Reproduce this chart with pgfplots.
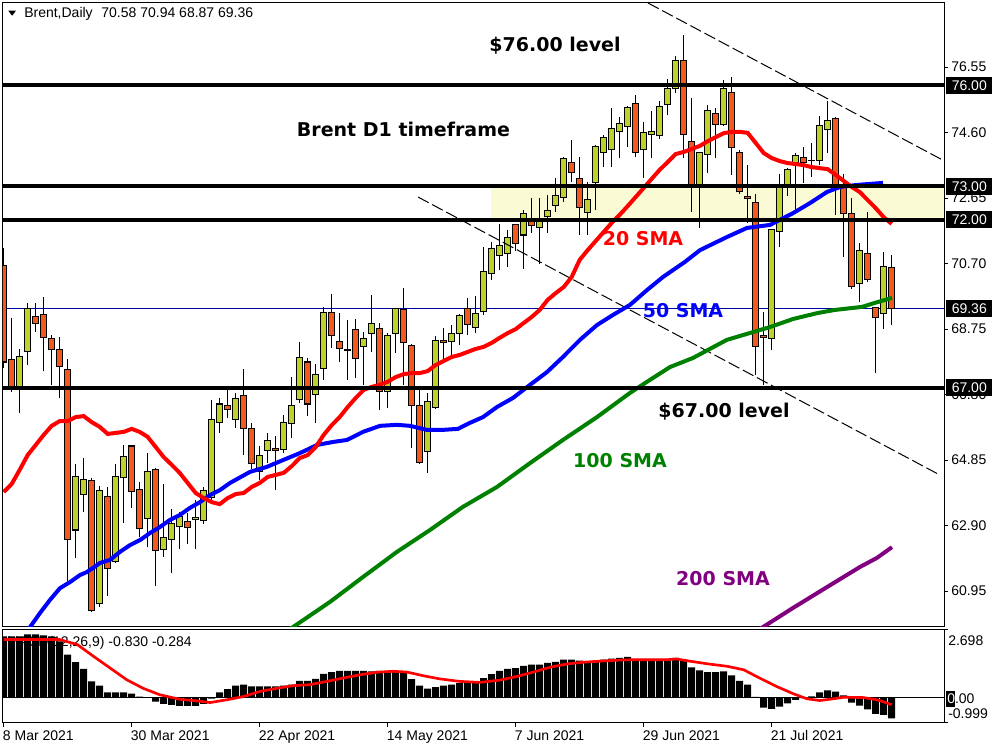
\documentclass[border=0pt]{standalone}
\usepackage{fontspec}
\setmainfont{Liberation Sans}
\newfontfamily\dejavu{DejaVu Sans}
\usepackage{pgfplots}
\usepackage{pgfplotstable}
\pgfplotsset{compat=1.18}
\definecolor{bullc}{RGB}{190,210,45}
\definecolor{bearc}{RGB}{240,90,30}
\definecolor{zonec}{RGB}{250,250,212}
\definecolor{bidc}{RGB}{0,0,160}
\definecolor{smagreen}{RGB}{0,128,0}
\definecolor{smapurple}{RGB}{128,0,128}
\newcommand\smallfnt{\fontsize{10.5}{12}\selectfont}
\newcommand\bigfnt{\dejavu\bfseries\fontsize{14.25}{17}\selectfont}

\pgfplotstableread{
i o h l c
2 67.03 68.16 66.25 67.92
3 68.07 69.53 67.68 69.35
9 62.77 64.73 61.94 64.35
10 63.84 64.91 63.31 64.26
12 60.57 64.08 60.48 63.96
14 61.82 64.73 61.79 64.35
15 64.32 65.30 62.98 64.97
18 63.10 65.06 62.26 64.50
20 62.20 64.14 61.97 62.56
21 62.50 63.40 61.49 62.95
22 62.86 63.31 62.20 63.16
24 63.07 63.66 62.20 63.13
25 63.04 64.05 62.95 63.96
26 63.75 66.64 63.63 66.07
27 65.98 66.70 65.66 66.52
29 66.07 66.85 65.80 66.67
32 64.50 65.27 64.26 65.00
33 65.15 65.66 64.76 65.42
35 65.18 66.19 65.06 65.98
36 65.95 67.32 65.51 66.49
37 66.64 68.37 66.55 67.89
39 66.79 67.71 65.95 67.41
40 67.59 69.41 67.23 69.23
45 68.22 68.66 67.08 68.46
46 68.63 69.77 68.07 68.93
48 66.88 68.62 66.40 68.57
49 68.63 69.38 68.04 69.35
53 65.12 66.85 64.47 66.58
54 66.43 68.54 66.37 68.40
56 68.37 68.87 67.92 68.63
57 68.63 69.20 68.28 69.14
59 68.81 69.74 68.63 69.20
60 69.26 71.19 69.17 70.45
61 70.39 71.34 70.21 71.16
62 70.95 71.88 70.51 71.25
63 71.00 71.70 70.60 71.49
65 71.55 72.30 70.54 72.20
67 71.76 72.65 70.69 72.00
68 72.09 72.74 71.61 72.27
69 72.44 73.25 72.23 72.74
70 72.68 73.86 72.53 73.84
73 72.23 73.13 71.55 72.62
74 73.10 74.23 72.29 74.17
75 74.02 74.53 73.57 74.44
76 74.08 75.33 73.57 74.73
77 74.62 75.06 73.84 74.88
78 74.79 75.39 74.17 75.33
80 74.08 74.91 73.25 74.59
81 74.53 75.24 73.84 74.62
82 74.50 75.54 74.41 75.36
83 75.42 76.19 75.12 75.92
84 75.90 76.88 75.78 76.73
87 73.04 74.02 71.76 74.00
88 73.96 75.42 73.39 75.27
90 74.85 76.16 74.79 75.92
96 68.48 71.72 68.13 71.70
97 71.64 73.37 71.19 72.98
98 73.04 73.54 72.71 73.51
99 73.72 73.99 72.20 73.93
102 73.78 75.09 73.63 74.82
103 74.70 75.54 73.99 74.97
107 70.12 71.31 69.56 71.10
110 69.20 71.04 68.75 70.60
}\bull

\pgfplotstableread{
i o h l c
0 70.63 71.15 67.59 67.77
1 67.83 69.08 66.88 67.03
4 69.11 69.53 68.66 68.93
5 69.17 69.71 67.50 68.51
6 68.48 68.57 67.08 68.13
7 68.13 68.51 66.70 67.65
8 67.56 67.86 61.25 62.50
11 64.23 64.32 60.33 60.36
13 63.78 64.05 60.80 61.61
16 65.27 65.30 63.42 63.93
17 63.99 64.20 62.56 62.80
19 64.56 64.62 61.10 62.15
23 63.01 63.28 62.35 62.83
28 66.49 66.94 66.10 66.37
30 66.76 67.56 65.00 65.78
31 65.78 65.95 64.60 64.75
34 65.21 65.57 63.96 65.15
38 67.77 67.89 66.16 66.52
41 69.23 69.80 68.19 68.57
42 68.37 69.23 67.77 68.16
43 68.14 69.02 67.23 68.12
44 68.75 69.05 67.29 67.86
47 68.78 68.93 66.34 66.88
50 69.32 69.98 67.08 68.34
51 68.25 68.31 65.21 66.49
52 66.49 66.94 64.73 64.79
55 68.40 68.78 67.83 68.34
58 69.35 69.68 68.57 68.90
64 71.85 71.88 71.07 71.31
66 71.97 72.65 71.61 71.82
71 73.72 74.38 73.13 73.42
72 73.22 73.87 71.55 72.38
79 75.45 75.72 73.87 74.02
85 76.73 77.50 73.84 74.53
86 74.32 75.63 72.23 73.04
89 75.18 75.33 73.84 74.85
91 75.78 76.25 73.34 74.14
92 74.02 74.08 72.77 72.83
93 72.71 73.63 71.91 72.65
94 72.53 72.77 67.38 68.22
95 68.57 69.26 67.08 68.51
100 73.87 74.17 73.10 73.72
101 73.78 74.29 73.28 73.77
104 75.03 75.05 72.15 72.98
105 72.98 73.37 70.90 72.20
106 72.20 72.65 69.94 70.03
108 71.01 72.23 70.15 70.24
109 69.38 69.40 67.44 69.08
111 70.58 70.94 68.87 69.36
}\bear

\pgfplotsset{
  nomk/.style={only marks, mark=*, mark size=0pt, mark options={draw opacity=0, fill opacity=0}, forget plot},
  wick/.style={nomk,
    /pgfplots/error bars/y dir=plus, /pgfplots/error bars/y explicit,
    /pgfplots/error bars/error mark=none,
    /pgfplots/error bars/error bar style={black, line width=0.75pt}},
  bodyo/.style={nomk,
    /pgfplots/error bars/y dir=plus, /pgfplots/error bars/y explicit,
    /pgfplots/error bars/error mark=none,
    /pgfplots/error bars/error bar style={black, line width=5.25pt}},
  bodyi/.style={nomk,
    /pgfplots/error bars/y dir=plus, /pgfplots/error bars/y explicit,
    /pgfplots/error bars/error mark=none,
    /pgfplots/error bars/error bar style={#1, line width=3.75pt}},
}

\begin{document}
\begin{tikzpicture}
\path[use as bounding box] (0,0) rectangle (750pt,562.5pt);
% ---------------- main price panel ----------------
\begin{axis}[
  at={(2.25pt,92.25pt)}, anchor=south west,
  scale only axis, width=705.75pt, height=468pt,
  xmin=-0.0875, xmax=117.54, ymin=59.883, ymax=78.455,
  clip mode=individual,
  axis line style={black, line width=0.75pt},
  xtick=\empty,
  ytick={60.95,62.90,64.85,66.80,68.75,70.70,72.65,74.60,76.55},
  yticklabels={60.95,62.90,64.85,66.80,68.75,70.70,72.65,74.60,76.55},
  ytick pos=right, yticklabel pos=right,
  tick align=outside, major tick length=3pt,
  tick style={black, line width=0.75pt},
  yticklabel style={font=\smallfnt, anchor=west, inner sep=0pt},
  yticklabel shift=2.25pt,
]
% support zone
\addplot [fill=zonec, draw=none, forget plot] coordinates {(60.9,72) (117.54,72) (117.54,73) (60.9,73)} -- cycle;
% bid line
\addplot [bidc, line width=0.75pt, forget plot] coordinates {(-1,69.36) (118,69.36)};
% wicks
\addplot [wick] table [x=i, y=l, y error plus expr=\thisrow{h}-\thisrow{l}] {\bull};
\addplot [wick] table [x=i, y=l, y error plus expr=\thisrow{h}-\thisrow{l}] {\bear};
% bodies
\addplot [bodyo] table [x=i, y expr={min(\thisrow{o},\thisrow{c})-0.015}, y error plus expr={abs(\thisrow{c}-\thisrow{o})+0.03}] {\bull};
\addplot [bodyi=bullc] table [x=i, y expr={min(\thisrow{o},\thisrow{c})+0.015}, y error plus expr={max(abs(\thisrow{c}-\thisrow{o})-0.03,0)}] {\bull};
\addplot [bodyo] table [x=i, y expr={min(\thisrow{o},\thisrow{c})-0.015}, y error plus expr={abs(\thisrow{c}-\thisrow{o})+0.03}] {\bear};
\addplot [bodyi=bearc] table [x=i, y expr={min(\thisrow{o},\thisrow{c})+0.015}, y error plus expr={max(abs(\thisrow{c}-\thisrow{o})-0.03,0)}] {\bear};
% dashed channel lines
\addplot [black, line width=0.75pt, dash pattern=on 9pt off 3pt, forget plot] coordinates {(80.54,78.455) (117.54,73.76)};
\addplot [black, line width=0.75pt, dash pattern=on 9pt off 3pt, forget plot] coordinates {(51.79,72.68) (117.0,64.41)};
% SMA 200
\addplot [smapurple, line width=3pt, forget plot] coordinates {(93.5,59.67) (94.91,59.88) (98.66,60.45) (102.91,61.07) (107.04,61.67) (109.16,61.94) (111.04,62.26)};
% SMA 100
\addplot [smagreen, line width=3pt, forget plot] coordinates {(34.9,59.67) (36.16,59.88) (40.79,60.63) (44.91,61.37) (49.16,62.12) (53.29,62.77) (57.41,63.46) (61.66,64.05) (65.79,64.76) (69.91,65.45) (74.16,66.13) (78.29,66.85) (80.41,67.18) (83.29,67.62) (86.16,67.89) (90.41,68.43) (93.66,68.66) (95.79,68.81) (98.66,69.05) (101.79,69.23) (103.91,69.32) (107.29,69.41) (108.91,69.53) (111.04,69.68)};
% SMA 50
\addplot [blue, line width=3pt, forget plot] coordinates {(2.2,59.5) (3.29,59.88) (4.54,60.30) (5.79,60.69) (7.04,61.04) (8.29,61.22) (9.54,61.43) (10.41,61.52) (11.16,61.64) (12.04,61.79) (13.29,61.88) (14.54,62.12) (15.79,62.32) (17.04,62.47) (18.29,62.68) (19.54,62.86) (20.79,63.07) (22.04,63.22) (23.29,63.43) (24.54,63.60) (25.79,63.81) (27.04,63.96) (28.29,64.17) (30.79,64.50) (32.91,64.65) (34.91,64.85) (37.04,65.06) (39.16,65.30) (41.16,65.39) (42.91,65.45) (44.91,65.69) (47.04,65.87) (49.16,65.90) (50.79,65.87) (52.91,65.75) (54.91,65.75) (56.79,65.78) (58.29,65.96) (59.91,66.13) (61.66,66.43) (63.66,66.70) (65.79,67.09) (67.91,67.47) (69.91,67.92) (72.04,68.43) (74.16,68.87) (76.16,69.17) (78.29,69.47) (80.41,69.91) (82.41,70.30) (85.16,70.75) (87.04,71.10) (90.41,71.49) (92.91,71.76) (95.79,71.85) (98.66,72.20) (100.79,72.50) (102.91,72.83) (104.54,72.98) (106.66,73.04) (109.91,73.10)};
% SMA 20
\addplot [red, line width=3pt, forget plot] coordinates {(0,63.90) (1,64.14) (2,64.56) (3,65.00) (4,65.30) (5,65.60) (6,65.87) (7,66.01) (8,66.01) (9,66.13) (10,66.16) (11,65.98) (12,65.84) (13,65.63) (14,65.66) (15,65.69) (16,65.78) (17,65.69) (18,65.54) (19,65.24) (20,64.94) (21,64.71) (22,64.47) (23,64.17) (24,63.87) (25,63.72) (26,63.60) (27,63.54) (28,63.72) (29,63.84) (30,63.87) (31,64.05) (32,64.17) (33,64.35) (34,64.41) (35,64.47) (36,64.67) (37,64.91) (38,65.00) (39,65.24) (40,65.60) (41,65.89) (42,66.13) (43,66.43) (44,66.70) (45,66.94) (46,67.03) (47,67.09) (48,67.18) (49,67.32) (50,67.41) (51,67.44) (52,67.44) (53,67.50) (54,67.68) (55,67.80) (56,67.92) (57,67.98) (58,68.07) (59,68.16) (60,68.22) (61,68.34) (62,68.49) (63,68.63) (64,68.75) (65,68.93) (66,69.11) (67,69.32) (68,69.62) (69,69.82) (70,70.00) (71,70.30) (72,70.81) (73,71.10) (74,71.37) (75,71.64) (76,71.91) (77,72.15) (78,72.41) (79,72.68) (80,72.95) (81,73.22) (82,73.49) (83,73.72) (84,73.96) (85,74.02) (86,74.11) (87,74.20) (88,74.34) (89,74.46) (90,74.58) (91,74.62) (92,74.62) (93,74.59) (94,74.29) (95,73.99) (96,73.84) (97,73.75) (98,73.69) (99,73.66) (100,73.63) (101,73.57) (102,73.54) (103,73.51) (104,73.34) (105,73.16) (106,72.98) (107,72.83) (108,72.59) (109,72.35) (110,72.08) (111,71.88)};
% horizontal levels
\addplot [black, line width=3pt, forget plot] coordinates {(-1,76) (117.54,76)};
\addplot [black, line width=3pt, forget plot] coordinates {(-1,73) (117.54,73)};
\addplot [black, line width=3pt, forget plot] coordinates {(-1,72) (117.54,72)};
\addplot [black, line width=3pt, forget plot] coordinates {(-1,67) (117.54,67)};
% price boxes
\foreach \lv/\tx in {76/76.00,73/73.00,72/72.00,67/67.00,69.36/69.36}{
  \edef\tmp{\noexpand\node[fill=black, text=white, font=\noexpand\smallfnt, anchor=west, inner sep=0pt, minimum width=34.5pt, minimum height=12.75pt, xshift=1.5pt] at (axis cs:117.54,\lv) {\tx};}\tmp
}
\end{axis}
% ---------------- MACD panel ----------------
\begin{axis}[
  at={(2.25pt,20.475pt)}, anchor=south west,
  scale only axis, width=705.75pt, height=69.9pt,
  xmin=-0.0875, xmax=117.54, ymin=-0.999, ymax=2.698,
  clip mode=individual,
  axis line style={black, line width=0.75pt},
  xtick={0,16,32,48,64,80,96},
  xticklabels={8 Mar 2021,30 Mar 2021,22 Apr 2021,14 May 2021,7 Jun 2021,29 Jun 2021,21 Jul 2021},
  xtick pos=left, ytick pos=right,
  ytick={-0.999,2.698}, yticklabels={,,},
  tick align=outside, major tick length=3pt,
  tick style={black, line width=0.75pt},
  xticklabel style={font=\smallfnt, anchor=north west, inner sep=0pt, xshift=-0.75pt},
  xticklabel shift=2.5pt,
]
\node[anchor=east, font=\smallfnt, inner sep=0pt] at (axis cs:23.54,2.16) {MACD(12,26,9) -0.830 -0.284};
\addplot [ybar, bar width=5.25pt, fill=black, draw=none, forget plot] coordinates {(0,2.43) (1,2.43) (2,2.43) (3,2.50) (4,2.50) (5,2.46) (6,2.43) (7,2.23) (8,1.70) (9,1.40) (10,1.14) (11,0.64) (12,0.47) (13,0.20) (14,0.20) (15,0.20) (16,0.15) (17,0.04) (18,0.01) (19,-0.16) (20,-0.25) (21,-0.29) (22,-0.33) (23,-0.33) (24,-0.33) (25,-0.25) (26,-0.04) (27,0.20) (28,0.33) (29,0.47) (30,0.51) (31,0.44) (32,0.44) (33,0.44) (34,0.44) (35,0.47) (36,0.51) (37,0.66) (38,0.66) (39,0.74) (40,0.94) (41,1.01) (42,1.06) (43,1.06) (44,1.06) (45,1.06) (46,1.04) (47,1.06) (48,1.06) (49,1.04) (50,1.00) (51,0.73) (52,0.47) (53,0.35) (54,0.41) (55,0.47) (56,0.51) (57,0.57) (58,0.61) (59,0.64) (60,0.77) (61,0.93) (62,1.06) (63,1.14) (64,1.17) (65,1.26) (66,1.30) (67,1.30) (68,1.37) (69,1.41) (70,1.50) (71,1.50) (72,1.46) (73,1.40) (74,1.46) (75,1.50) (76,1.54) (77,1.57) (78,1.61) (79,1.53) (80,1.53) (81,1.53) (82,1.53) (83,1.53) (84,1.57) (85,1.48) (86,1.20) (87,1.08) (88,1.01) (89,1.01) (90,1.04) (91,0.88) (92,0.66) (93,0.51) (94,0.03) (95,-0.40) (96,-0.45) (97,-0.36) (98,-0.23) (99,-0.09) (100,-0.02) (101,0.05) (102,0.20) (103,0.28) (104,0.23) (105,0.08) (106,-0.20) (107,-0.32) (108,-0.47) (109,-0.65) (110,-0.69) (111,-0.83)};
\addplot [black, line width=0.75pt, forget plot] coordinates {(-1,0) (118,0)};
\addplot [red, line width=2pt, forget plot] coordinates {(0,2.30) (3.7,2.30) (7,2.30) (9.2,2.10) (11.2,1.64) (13.3,1.17) (15.4,0.70) (17.4,0.37) (19.5,0.11) (22,-0.07) (24.1,-0.13) (25.8,-0.20) (27.9,-0.09) (30,0.04) (32,0.24) (34.2,0.37) (36.2,0.47) (38.3,0.51) (40.4,0.64) (42.4,0.77) (44.5,0.90) (46.6,1.00) (48.7,1.04) (50.4,1.01) (52.5,0.86) (54.5,0.74) (57,0.64) (59.5,0.60) (62,0.69) (64.2,0.84) (66.2,1.01) (68.3,1.20) (70.4,1.33) (72.4,1.40) (74.5,1.44) (76.6,1.48) (78.7,1.50) (80.8,1.50) (83,1.50) (84.1,1.53) (85.8,1.44) (87.9,1.34) (90.4,1.24) (92.5,1.10) (94.5,0.77) (96.6,0.44) (98.7,0.15) (100.4,-0.05) (102,-0.12) (103.7,-0.05) (105,0.01) (107.4,0) (109.2,-0.09) (111,-0.284)};
\end{axis}
% ---------------- texts ----------------
\fill[black] (6.2pt,554.5pt) -- (12pt,554.5pt) -- (9.1pt,550.7pt) -- cycle;
\node[anchor=west, font=\smallfnt, inner sep=0pt] at (18pt,552pt) {Brent,Daily\hspace{6.5pt}70.58 70.94 68.87 69.36};
\node[anchor=base, font=\bigfnt, inner sep=0pt] at (416.25pt,523.7pt) {\$76.00 level};
\node[anchor=base, font=\bigfnt, inner sep=0pt] at (302.6pt,459.75pt) {Brent D1 timeframe};
\node[anchor=base, font=\bigfnt, inner sep=0pt, text=red] at (482.25pt,378pt) {20 SMA};
\node[anchor=base, font=\bigfnt, inner sep=0pt, text=blue] at (512.25pt,324pt) {50 SMA};
\node[anchor=base, font=\bigfnt, inner sep=0pt] at (543pt,249.4pt) {\$67.00 level};
\node[anchor=base, font=\bigfnt, inner sep=0pt, text=smagreen] at (465pt,211.5pt) {100 SMA};
\node[anchor=base, font=\bigfnt, inner sep=0pt, text=smapurple] at (542.25pt,123pt) {200 SMA};
% MACD scale labels
\node[anchor=west, font=\smallfnt, inner sep=0pt] at (711pt,81.75pt) {2.698};
\node[anchor=west, font=\smallfnt, inner sep=0pt] at (711pt,27pt) {-0.999};
\fill[black] (709.5pt,32.5pt) rectangle (716.25pt,44.5pt);
\node[anchor=west, font=\smallfnt, inner sep=0pt] at (710.25pt,38.25pt) {0.00};
\begin{scope}
\clip (709.5pt,32.5pt) rectangle (716.25pt,44.5pt);
\node[anchor=west, font=\smallfnt, inner sep=0pt, text=white] at (710.25pt,38.25pt) {0.00};
\end{scope}
\end{tikzpicture}
\end{document}
